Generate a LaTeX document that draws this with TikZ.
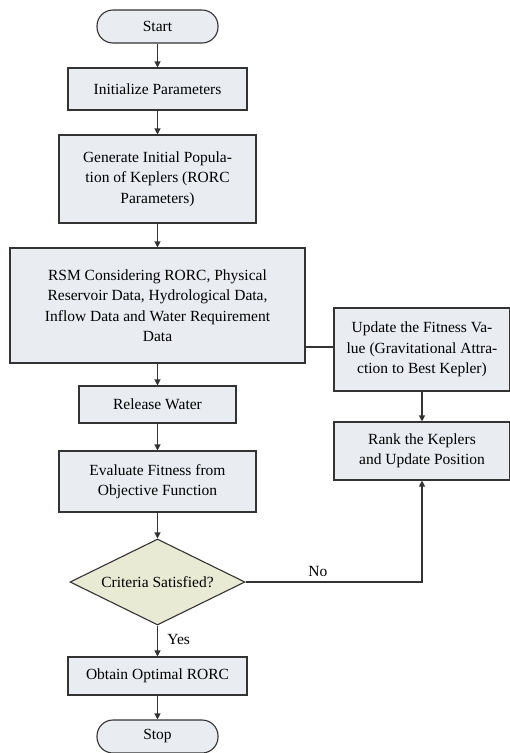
\documentclass[tikz,border=0pt]{standalone}
\usepackage{fontspec}
\setmainfont{Liberation Serif}
\usetikzlibrary{shapes.geometric,arrows.meta}
\definecolor{boxfill}{HTML}{E9ECF1}
\definecolor{decfill}{HTML}{E8EAD3}
\definecolor{edge}{HTML}{333333}
\begin{document}
\begin{tikzpicture}[x=1pt,y=1pt,
  every node/.style={font=\fontsize{15.5}{20.5}\selectfont, text=black},
  base/.style={draw=edge, line width=1.1pt, fill=boxfill, inner sep=0pt, align=center},
  procbox/.style={base, rectangle},
  termbox/.style={base, rectangle, rounded corners=16pt},
  decbox/.style={base, diamond, aspect=2.03, fill=decfill},
  conn/.style={draw=edge, line width=1.1pt},
  arr/.style={conn, -{Triangle[length=6pt,width=6pt]}},
  lbl/.style={font=\fontsize{15.5}{18}\selectfont}
]
\useasboundingbox (0,0) rectangle (510,-753);
\fill[white] (0,0) rectangle (510,-753);

\node[termbox, minimum width=121, minimum height=33] (start) at (157.5,-26.5) {Start};
\node[procbox, minimum width=179, minimum height=42] (init) at (157.5,-89) {Initialize Parameters};
\node[procbox, minimum width=197, minimum height=88] (gen) at (157.5,-179) {Generate Initial Popula-\\tion of Keplers (RORC\\Parameters)};
\node[procbox, minimum width=295, minimum height=115] (rsm) at (157.5,-305.5) {RSM Considering RORC, Physical\\Reservoir Data, Hydrological Data,\\Inflow Data and Water Requirement\\Data};
\node[procbox, minimum width=157, minimum height=37] (rel) at (157.5,-404.5) {Release Water};
\node[procbox, minimum width=197, minimum height=61] (eval) at (157.5,-481.5) {Evaluate Fitness from\\Objective Function};
\node[decbox, minimum width=175, minimum height=86] (dec) at (157.5,-582) {Criteria Satisfied?};
\node[procbox, minimum width=179, minimum height=38] (obt) at (157.5,-676) {Obtain Optimal RORC};
\node[termbox, minimum width=121, minimum height=33] (stop) at (157.5,-736.5) {Stop};
\node[procbox, minimum width=176, minimum height=83] (upd) at (422,-349.5) {Update the Fitness Va-\\lue (Gravitational Attra-\\ction to Best Kepler)};
\node[procbox, minimum width=176, minimum height=58] (rank) at (422,-451) {Rank the Keplers\\and Update Position};

\draw[arr] (start) -- (init);
\draw[arr] (init) -- (gen);
\draw[arr] (gen) -- (rsm);
\draw[arr] (rsm) -- (rel);
\draw[arr] (rel) -- (eval);
\draw[arr] (eval) -- (dec);
\draw[arr] (dec) -- node[lbl, right=6pt, pos=0.45] {Yes} (obt);
\draw[arr] (obt) -- (stop);
\draw[arr] (upd) -- (rank);
\coordinate (link) at (0,-347);
\draw[conn] (rsm.east |- link) -- (upd.west |- link);
\draw[arr] (dec.east) -- node[lbl, above=1pt, pos=0.41] {No} (dec.east -| rank.south) -- (rank.south);
\end{tikzpicture}
\end{document}
